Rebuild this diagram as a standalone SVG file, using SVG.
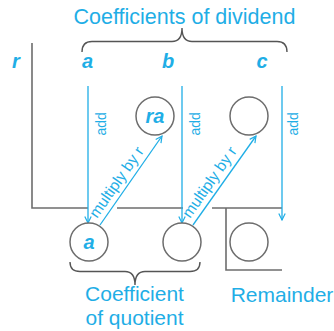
<svg xmlns="http://www.w3.org/2000/svg" width="334" height="331" viewBox="0 0 334 331">
<defs>
<style>
.lbl{font-family:"Liberation Sans",Arial,sans-serif;fill:#1faee6}
.big{font-size:21.5px}
.var{font-size:20px;font-weight:bold;font-style:italic;text-anchor:middle}
.sm{font-size:14px}
.gray{stroke:#6d6d6d;stroke-width:1.6;fill:none}
.brace{stroke:#555;stroke-width:1.4;fill:none}
.blue{stroke:#1faee6;stroke-width:1.3;fill:none;marker-end:url(#ah)}
.circ{stroke:#6d6d6d;stroke-width:1.5;fill:#fff}
</style>
<marker id="ah" viewBox="0 0 10 10" refX="9" refY="5" markerWidth="8" markerHeight="8" markerUnits="userSpaceOnUse" orient="auto">
<path d="M1,1 L9,5 L1,9" fill="none" stroke="#1faee6" stroke-width="1.5"/>
</marker>
</defs>
<rect width="334" height="331" fill="#fff"/>
<g id="title"><text class="lbl big" x="184.5" y="24" text-anchor="middle">Coefficients of dividend</text></g>
<g id="top-brace"><path class="brace" d="M82,52 Q82,41.5 92,41.5 L172,41.5 Q182,41.5 182,28 Q182,41.5 192,41.5 L277,41.5 Q287,41.5 287,52"/></g>
<g id="labels">
<text class="lbl var" x="16" y="68">r</text>
<text class="lbl var" x="87.5" y="68">a</text>
<text class="lbl var" x="168" y="68">b</text>
<text class="lbl var" x="262" y="68">c</text>
</g>
<g id="frame">
<path class="gray" d="M32,43 L32,208 L88,208"/>
<path class="gray" d="M117,208 L183,208"/>
<path class="gray" d="M212,208 L282,208"/>
<path class="gray" d="M226,208 L226,270 L282,270"/>
</g>
<g id="connectors">
<line class="blue" x1="88" y1="86" x2="88" y2="223"/>
<line class="blue" x1="182" y1="86" x2="182" y2="223"/>
<line class="blue" x1="282" y1="86" x2="282" y2="220"/>
<line class="blue" x1="100" y1="225" x2="162" y2="136"/>
<line class="blue" x1="193" y1="225" x2="256" y2="136"/>
<text class="lbl sm" transform="translate(105.5,135.5) rotate(-90)">add</text>
<text class="lbl sm" transform="translate(199.5,135.5) rotate(-90)">add</text>
<text class="lbl sm" transform="translate(297.5,135.5) rotate(-90)">add</text>
<text class="lbl" font-size="15.5" transform="translate(97,219) rotate(-55)">multiply by r</text>
<text class="lbl" font-size="15.5" transform="translate(190,219) rotate(-55)">multiply by r</text>
</g>
<g id="node-ra"><circle class="circ" cx="155" cy="116" r="19"/><text class="lbl var" x="155" y="123">ra</text></g>
<g id="node-top2"><circle class="circ" cx="249" cy="116" r="19"/></g>
<g id="node-a"><circle class="circ" cx="89" cy="242" r="19"/><text class="lbl var" x="89" y="249">a</text></g>
<g id="node-q2"><circle class="circ" cx="182" cy="242" r="19"/></g>
<g id="node-rem"><circle class="circ" cx="249" cy="242" r="19"/></g>
<g id="bottom-brace"><path class="brace" d="M70,262 Q70,271.5 80,271.5 L125,271.5 Q135,271.5 135,285 Q135,271.5 145,271.5 L190,271.5 Q200,271.5 200,262"/></g>
<g id="bottom-labels">
<text class="lbl" font-size="21" x="134.5" y="301" text-anchor="middle">Coefficient</text>
<text class="lbl" font-size="21" x="134.5" y="325" text-anchor="middle">of quotient</text>
<text class="lbl" font-size="21" x="282" y="302" text-anchor="middle">Remainder</text>
</g>
</svg>
